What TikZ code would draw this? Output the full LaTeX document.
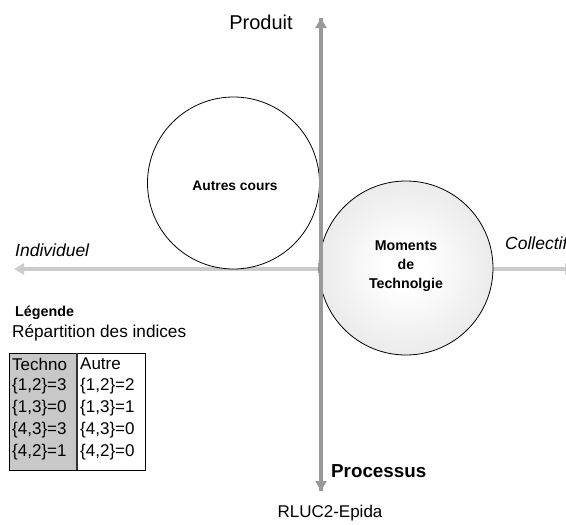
\documentclass[tikz,border=0pt]{standalone}
\usepackage{fontspec}
\setmainfont{Liberation Sans}
\usetikzlibrary{arrows.meta}
\definecolor{axisH}{HTML}{CCCCCC}
\definecolor{axisV}{HTML}{999999}
\definecolor{cellgray}{HTML}{C8C8C8}
\definecolor{shadeout}{HTML}{D4D4D4}
\definecolor{shademid}{HTML}{EEEEEE}
\pgfdeclareradialshading{momshade}{\pgfpoint{0bp}{0bp}}{color(0bp)=(white); color(6bp)=(white); color(22bp)=(shademid); color(50bp)=(shadeout); color(100bp)=(shadeout)}
\tikzset{
  axisline/.style={line width=4pt,-{Triangle[length=10pt,width=11pt]}},
  lbl/.style={inner sep=0pt,font=\fontsize{17}{20}\selectfont},
  cell/.style={inner sep=0pt,anchor=west,font=\fontsize{17}{20}\selectfont},
  bub/.style={draw=black,line width=0.8pt,circle,inner sep=0pt,minimum size=172pt},
}
\begin{document}
\begin{tikzpicture}[x=1pt,y=-1pt]
\clip (0,0) rectangle (566,525);
\fill[white] (0,0) rectangle (566,525);
% horizontal axis
\coordinate (hl) at (14,269);
\coordinate (hr) at (575,269);
\coordinate (hm) at (321,269);
\draw[axisline,axisH] (hm) -- (hl);
\draw[axisline,axisH] (hm) -- (hr);
% circles
\node[bub,fill=white] (autres) at (233.5,183) {};
\node[bub,minimum size=174pt,shading=momshade] (moments) at (406,268) {};
% vertical axis
\coordinate (vt) at (321,18);
\coordinate (vb) at (321,491);
\draw[axisline,axisV] (vb) -- (vt);
\draw[axisline,axisV] (vt) -- (vb);
% circle labels
\node[inner sep=0pt,font=\bfseries\fontsize{13.8}{16}\selectfont] (autrestxt) at (235,186) {Autres cours};
\node[inner sep=0pt,align=center,font=\bfseries\fontsize{14.2}{19}\selectfont] (momtxt) at (406,266) {Moments\\de\\Technolgie};
% axis labels
\node[lbl,font=\fontsize{20}{24}\selectfont] (produit) at (261,22) {Produit};
\node[lbl,anchor=west,font=\bfseries\fontsize{18.8}{22}\selectfont] (processus) at (331,471) {Processus};
\node[lbl,anchor=west,font=\itshape\fontsize{17.5}{20}\selectfont] (indiv) at (15,250) {Individuel};
\node[lbl,anchor=west,font=\itshape\fontsize{17.5}{20}\selectfont] (collect) at (505,243) {Collectif};
\node[lbl] (rluc) at (330,513) {RLUC2-Epida};
% legend
\node[inner sep=0pt,anchor=west,font=\bfseries\fontsize{14.3}{16}\selectfont] (legende) at (15,313) {Légende};
\node[inner sep=0pt,anchor=west,font=\fontsize{17.2}{20}\selectfont] (repart) at (12,333) {Répartition des indices};
\fill[cellgray] (9,353) rectangle (77,470);
\draw[black,line width=0.8pt] (9,353) rectangle (145,470);
\draw[black!80,line width=1.6pt] (77,353) -- (77,470);
\node[cell] (t0) at (12,364) {Techno};
\node[cell] (t1) at (12,386) {\{1,2\}=3};
\node[cell] (t2) at (12,408) {\{1,3\}=0};
\node[cell] (t3) at (12,430) {\{4,3\}=3};
\node[cell] (t4) at (12,452) {\{4,2\}=1};
\node[cell] (a0) at (80,364) {Autre};
\node[cell] (a1) at (80,386) {\{1,2\}=2};
\node[cell] (a2) at (80,408) {\{1,3\}=1};
\node[cell] (a3) at (80,430) {\{4,3\}=0};
\node[cell] (a4) at (80,452) {\{4,2\}=0};
\end{tikzpicture}
\end{document}
